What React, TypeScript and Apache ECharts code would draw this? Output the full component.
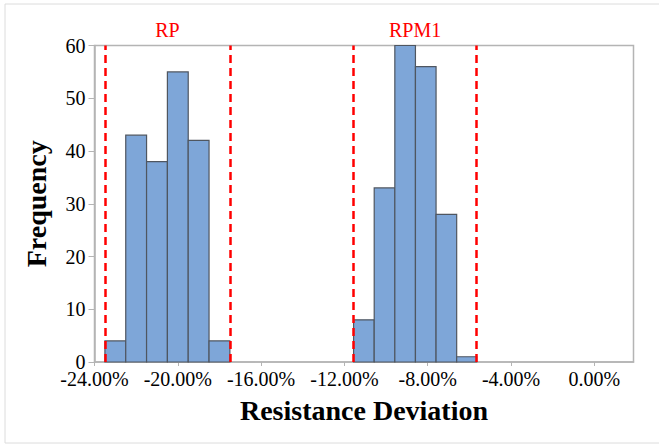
import React, { useEffect, useRef } from "react";
import * as echarts from "echarts";

// Histogram bin edges (resistance deviation, %) and frequencies
const rpBinEdges = [-23.5, -22.5, -21.5, -20.5, -19.5, -18.5, -17.5];
const rpCounts = [4, 43, 38, 55, 42, 4];
const rpm1BinEdges = [-11.56, -10.57, -9.58, -8.59, -7.6, -6.61, -5.65];
const rpm1Counts = [8, 33, 60, 56, 28, 1];

// Limit lines
const rpLimits = [-23.5, -17.5];
const rpm1Limits = [-11.56, -5.65];
const groupNames = ["RP", "RPM1"];

// Axis ticks
const xTicks = [-24, -20, -16, -12, -8, -4, 0];
const xMin = -24;
const xMax = 1.88;
const yTicks = [0, 10, 20, 30, 40, 50, 60];

const FONT = "Liberation Serif";

function binsToData(edges: number[], counts: number[]) {
  return counts.map((c, i) => [edges[i], edges[i + 1], c]);
}

export default function App() {
  const ref = useRef<HTMLDivElement>(null);
  useEffect(() => {
    if (!ref.current) return;
    const chart = echarts.init(ref.current, undefined, { renderer: "svg" });
    const renderItem = (params: any, api: any) => {
      const x0 = api.value(0);
      const x1 = api.value(1);
      const h = api.value(2);
      const p0 = api.coord([x0, h]);
      const p1 = api.coord([x1, 0]);
      return {
        type: "rect",
        shape: { x: p0[0], y: p0[1], width: p1[0] - p0[0], height: p1[1] - p0[1] },
        style: { fill: "#7ea6d8", stroke: "#4f5660", lineWidth: 1.2 },
      };
    };
    const limitLines = (lims: number[]) => ({
      silent: true,
      symbol: ["none", "none"],
      label: { show: false },
      lineStyle: { color: "#ff0000", type: [8, 5], width: 2.5 },
      data: lims.map((v) => ({ xAxis: v })),
    });
    const area = (lims: number[], name: string) => ({
      silent: true,
      itemStyle: { color: "rgba(0,0,0,0)" },
      label: {
        show: true,
        position: "top",
        distance: 6,
        color: "#ff0000",
        fontSize: 20,
        fontFamily: FONT,
      },
      data: [[{ xAxis: lims[0], name }, { xAxis: lims[1] }]],
    });
    chart.setOption({
      animation: false,
      backgroundColor: "#ffffff",
      textStyle: { fontFamily: FONT },
      graphic: [
        {
          type: "rect",
          shape: { x: 5, y: 4, width: 700, height: 439 },
          style: { fill: "none", stroke: "#dcdcdc", lineWidth: 1 },
          silent: true,
        },
      ],
      grid: {
        left: 94.5,
        right: 25.5,
        top: 45.5,
        bottom: 82,
        show: true,
        borderColor: "#b4b4b4",
        borderWidth: 1.5,
        backgroundColor: "transparent",
      },
      xAxis: {
        type: "value",
        min: xMin,
        max: xMax,
        interval: 4,
        name: "Resistance Deviation",
        nameLocation: "middle",
        nameGap: 34,
        nameTextStyle: { fontFamily: FONT, fontSize: 28, fontWeight: "bold", color: "#000" },
        axisLine: { show: true, onZero: false, lineStyle: { color: "#b4b4b4", width: 1.5 } },
        axisTick: { show: true, length: 4, customValues: xTicks, lineStyle: { color: "#b4b4b4" } },
        axisLabel: {
          customValues: xTicks,
          margin: 9,
          lineHeight: 16,
          fontFamily: FONT,
          fontSize: 20,
          color: "#000",
          formatter: (v: number) => v.toFixed(2) + "%",
        },
        splitLine: { show: false },
      },
      yAxis: {
        type: "value",
        min: 0,
        max: 60,
        interval: 10,
        name: "Frequency",
        nameLocation: "middle",
        nameGap: 44,
        nameRotate: 90,
        nameTextStyle: { fontFamily: FONT, fontSize: 28, fontWeight: "bold", color: "#000" },
        axisLine: { show: true, onZero: false, lineStyle: { color: "#b4b4b4", width: 1.5 } },
        axisTick: { show: true, length: 6, customValues: yTicks, lineStyle: { color: "#b4b4b4" } },
        axisLabel: {
          customValues: yTicks,
          margin: 9,
          lineHeight: 14,
          fontFamily: FONT,
          fontSize: 20,
          color: "#000",
        },
        splitLine: { show: false },
      },
      series: [
        {
          type: "custom",
          name: groupNames[0],
          renderItem,
          encode: { x: [0, 1], y: 2 },
          data: binsToData(rpBinEdges, rpCounts),
          markLine: limitLines(rpLimits),
          markArea: area(rpLimits, groupNames[0]),
          z: 2,
        },
        {
          type: "custom",
          name: groupNames[1],
          renderItem,
          encode: { x: [0, 1], y: 2 },
          data: binsToData(rpm1BinEdges, rpm1Counts),
          markLine: limitLines(rpm1Limits),
          markArea: area(rpm1Limits, groupNames[1]),
          z: 2,
        },
      ],
    });
    return () => chart.dispose();
  }, []);
  return (
    <div
      ref={ref}
      style={{ position: "fixed", left: 0, top: 0, width: 659, height: 444 }}
    />
  );
}
